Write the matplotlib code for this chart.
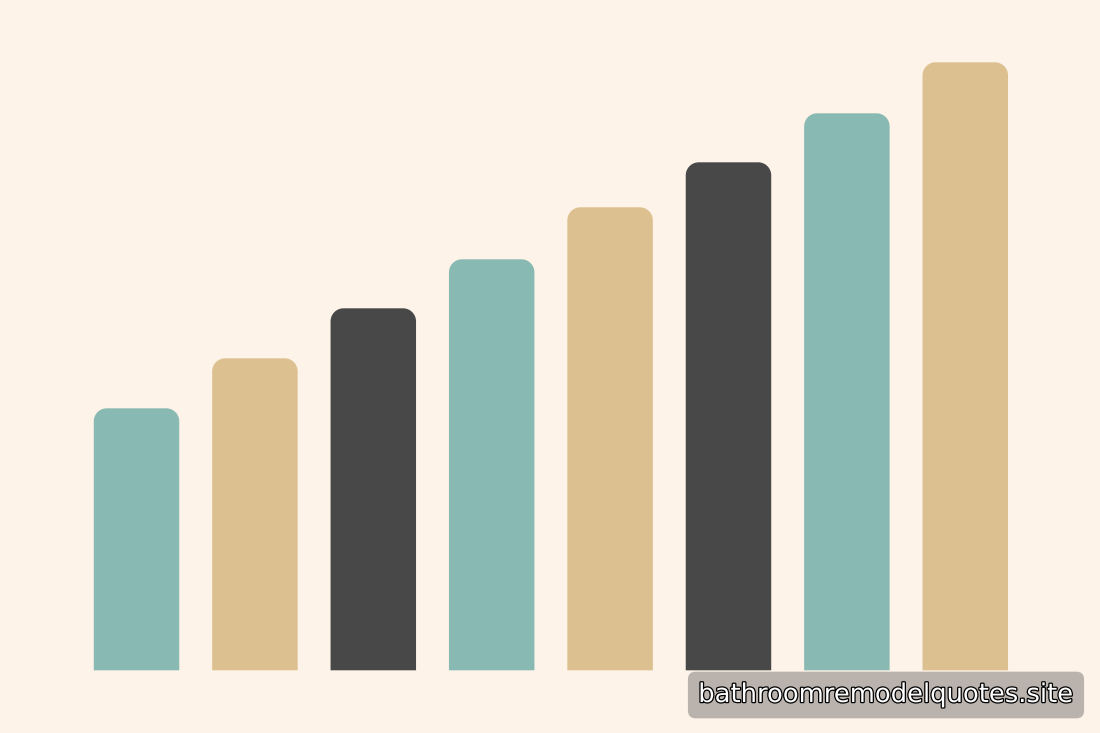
import matplotlib.pyplot as plt
from matplotlib.patches import PathPatch
from matplotlib.path import Path
import matplotlib.patheffects as pe

# bar heights (pixels above the baseline)
values = [262, 312, 362, 411, 463, 508, 557, 608]
colors = ['#88BAB3', '#DDC08F', '#484848', '#88BAB3',
          '#DDC08F', '#484848', '#88BAB3', '#DDC08F']
BG = '#FDF3E9'
WATERMARK = 'bathroomremodelquotes.site'

STEP_PX = 118.4  # pixels per category on the x axis
RADIUS_PX = 13


def top_rounded(x, y, w, h, rx, ry):
    k = 0.5523  # bezier circle constant
    verts = [(x, y), (x + w, y), (x + w, y + h - ry),
             (x + w, y + h - ry + k * ry), (x + w - rx + k * rx, y + h), (x + w - rx, y + h),
             (x + rx, y + h),
             (x + rx - k * rx, y + h), (x, y + h - ry + k * ry), (x, y + h - ry),
             (x, y)]
    codes = [Path.MOVETO, Path.LINETO, Path.LINETO,
             Path.CURVE4, Path.CURVE4, Path.CURVE4,
             Path.LINETO,
             Path.CURVE4, Path.CURVE4, Path.CURVE4,
             Path.CLOSEPOLY]
    return Path(verts, codes)


fig = plt.figure(figsize=(11, 7.33), dpi=100, facecolor=BG)
ax = fig.add_axes([0, 0, 1, 1])
ax.set_facecolor(BG)
ax.set_xlim(-1.153, 8.138)
ax.set_ylim(-62.7, 670.3)
ax.axis('off')

bars = ax.bar(range(len(values)), values, width=0.722, color='none')
for rect, c in zip(bars, colors):
    path = top_rounded(rect.get_x(), rect.get_y(), rect.get_width(), rect.get_height(),
                       RADIUS_PX / STEP_PX, RADIUS_PX)
    ax.add_patch(PathPatch(path, facecolor=c, edgecolor='none'))

# watermark in the lower right corner
fig.text(886 / 1100, 1 - 695 / 733, WATERMARK, ha='center', va='center',
         fontsize=18.6, color='white',
         path_effects=[pe.withStroke(linewidth=1.8, foreground='black')],
         bbox=dict(boxstyle='round,pad=0.4,rounding_size=0.3',
                   facecolor='#A9A49E', alpha=0.8, edgecolor='none'))

fig.savefig('out.png', dpi=100, facecolor=BG)
